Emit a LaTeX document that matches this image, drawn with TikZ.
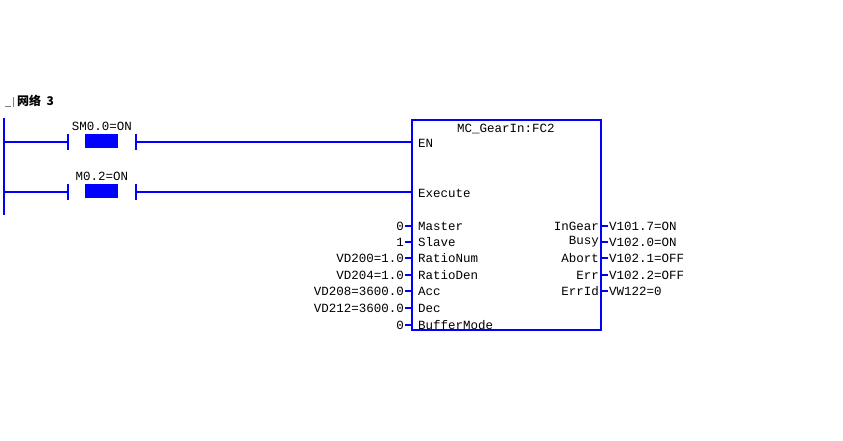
\documentclass[tikz,border=0pt]{standalone}
\usepackage{fontspec}
\setmainfont{Liberation Mono}
\newfontfamily\cjk{Noto Sans CJK SC}
\definecolor{plcblue}{RGB}{0,0,255}
\begin{document}
\fontsize{12.5}{14}\selectfont
\begin{tikzpicture}[x=1pt, y=-1pt,
    wire/.style={plcblue, line width=2pt},
    pin/.style={inner sep=0pt, font=\fontsize{12.5}{14}\selectfont},
    coil/.style={fill=plcblue, draw=none}]
    \useasboundingbox (0,0) rectangle (843,441);

    % Titre du réseau
    \draw[gray, line width=0.8pt] (5,106) -- (11,106) (13,97) -- (13,107);
    \node[anchor=west, inner sep=0pt, font=\cjk\bfseries\fontsize{12}{14}\selectfont] (titre) at (17,101) {网络\ \ 3};

    % Rail gauche
    \draw[wire] (4,118) -- (4,215);

    % Contacts
    \foreach \y/\lbl/\nm in {142/{SM0.0=ON}/c1, 192/{M0.2=ON}/c2}{
        \coordinate (\nm g) at (68,\y);
        \coordinate (\nm d) at (136,\y);
        \draw[wire] (4,\y) -- (\nm g);
        \draw[wire] (68,\y-8) -- (68,\y+8);
        \draw[wire] (136,\y-8) -- (136,\y+8);
        \fill[coil] (85,\y-8) rectangle (118,\y+6);
        \node[pin] at (102,\y-16) {\lbl};
    }

    % Bloc MC_GearIn
    \draw[wire] (412,120) rectangle (601,330);
    \node[pin] (titrebloc) at (506,129) {MC\_GearIn:FC2};
    \coordinate (en) at (412,142);
    \coordinate (exe) at (412,192);
    \draw[wire] (c1d) -- (en);
    \draw[wire] (c2d) -- (exe);
    \node[pin, anchor=west] at (418,143) {EN};
    \node[pin, anchor=west] at (418,193) {Execute};

    % Entrées
    \foreach \y/\val/\nom in {
        226/0/Master,
        242/1/Slave,
        258/{VD200=1.0}/RatioNum,
        275/{VD204=1.0}/RatioDen,
        291/{VD208=3600.0}/Acc,
        308/{VD212=3600.0}/Dec,
        325/0/BufferMode
    }{
        \draw[wire] (405,\y) -- (412,\y);
        \node[pin, anchor=east] at (404,\y) {\val};
        \node[pin, anchor=west] at (418,\y) {\nom};
    }

    % Sorties
    \foreach \y/\nom/\val in {
        226/InGear/{V101.7=ON},
        242/Busy/{V102.0=ON},
        258/Abort/{V102.1=OFF},
        275/Err/{V102.2=OFF},
        291/ErrId/{VW122=0}
    }{
        \draw[wire] (601,\y) -- (608,\y);
        \node[pin, anchor=east] at (599,\y) {\nom};
        \node[pin, anchor=west] at (609,\y) {\val};
    }
\end{tikzpicture}
\end{document}
